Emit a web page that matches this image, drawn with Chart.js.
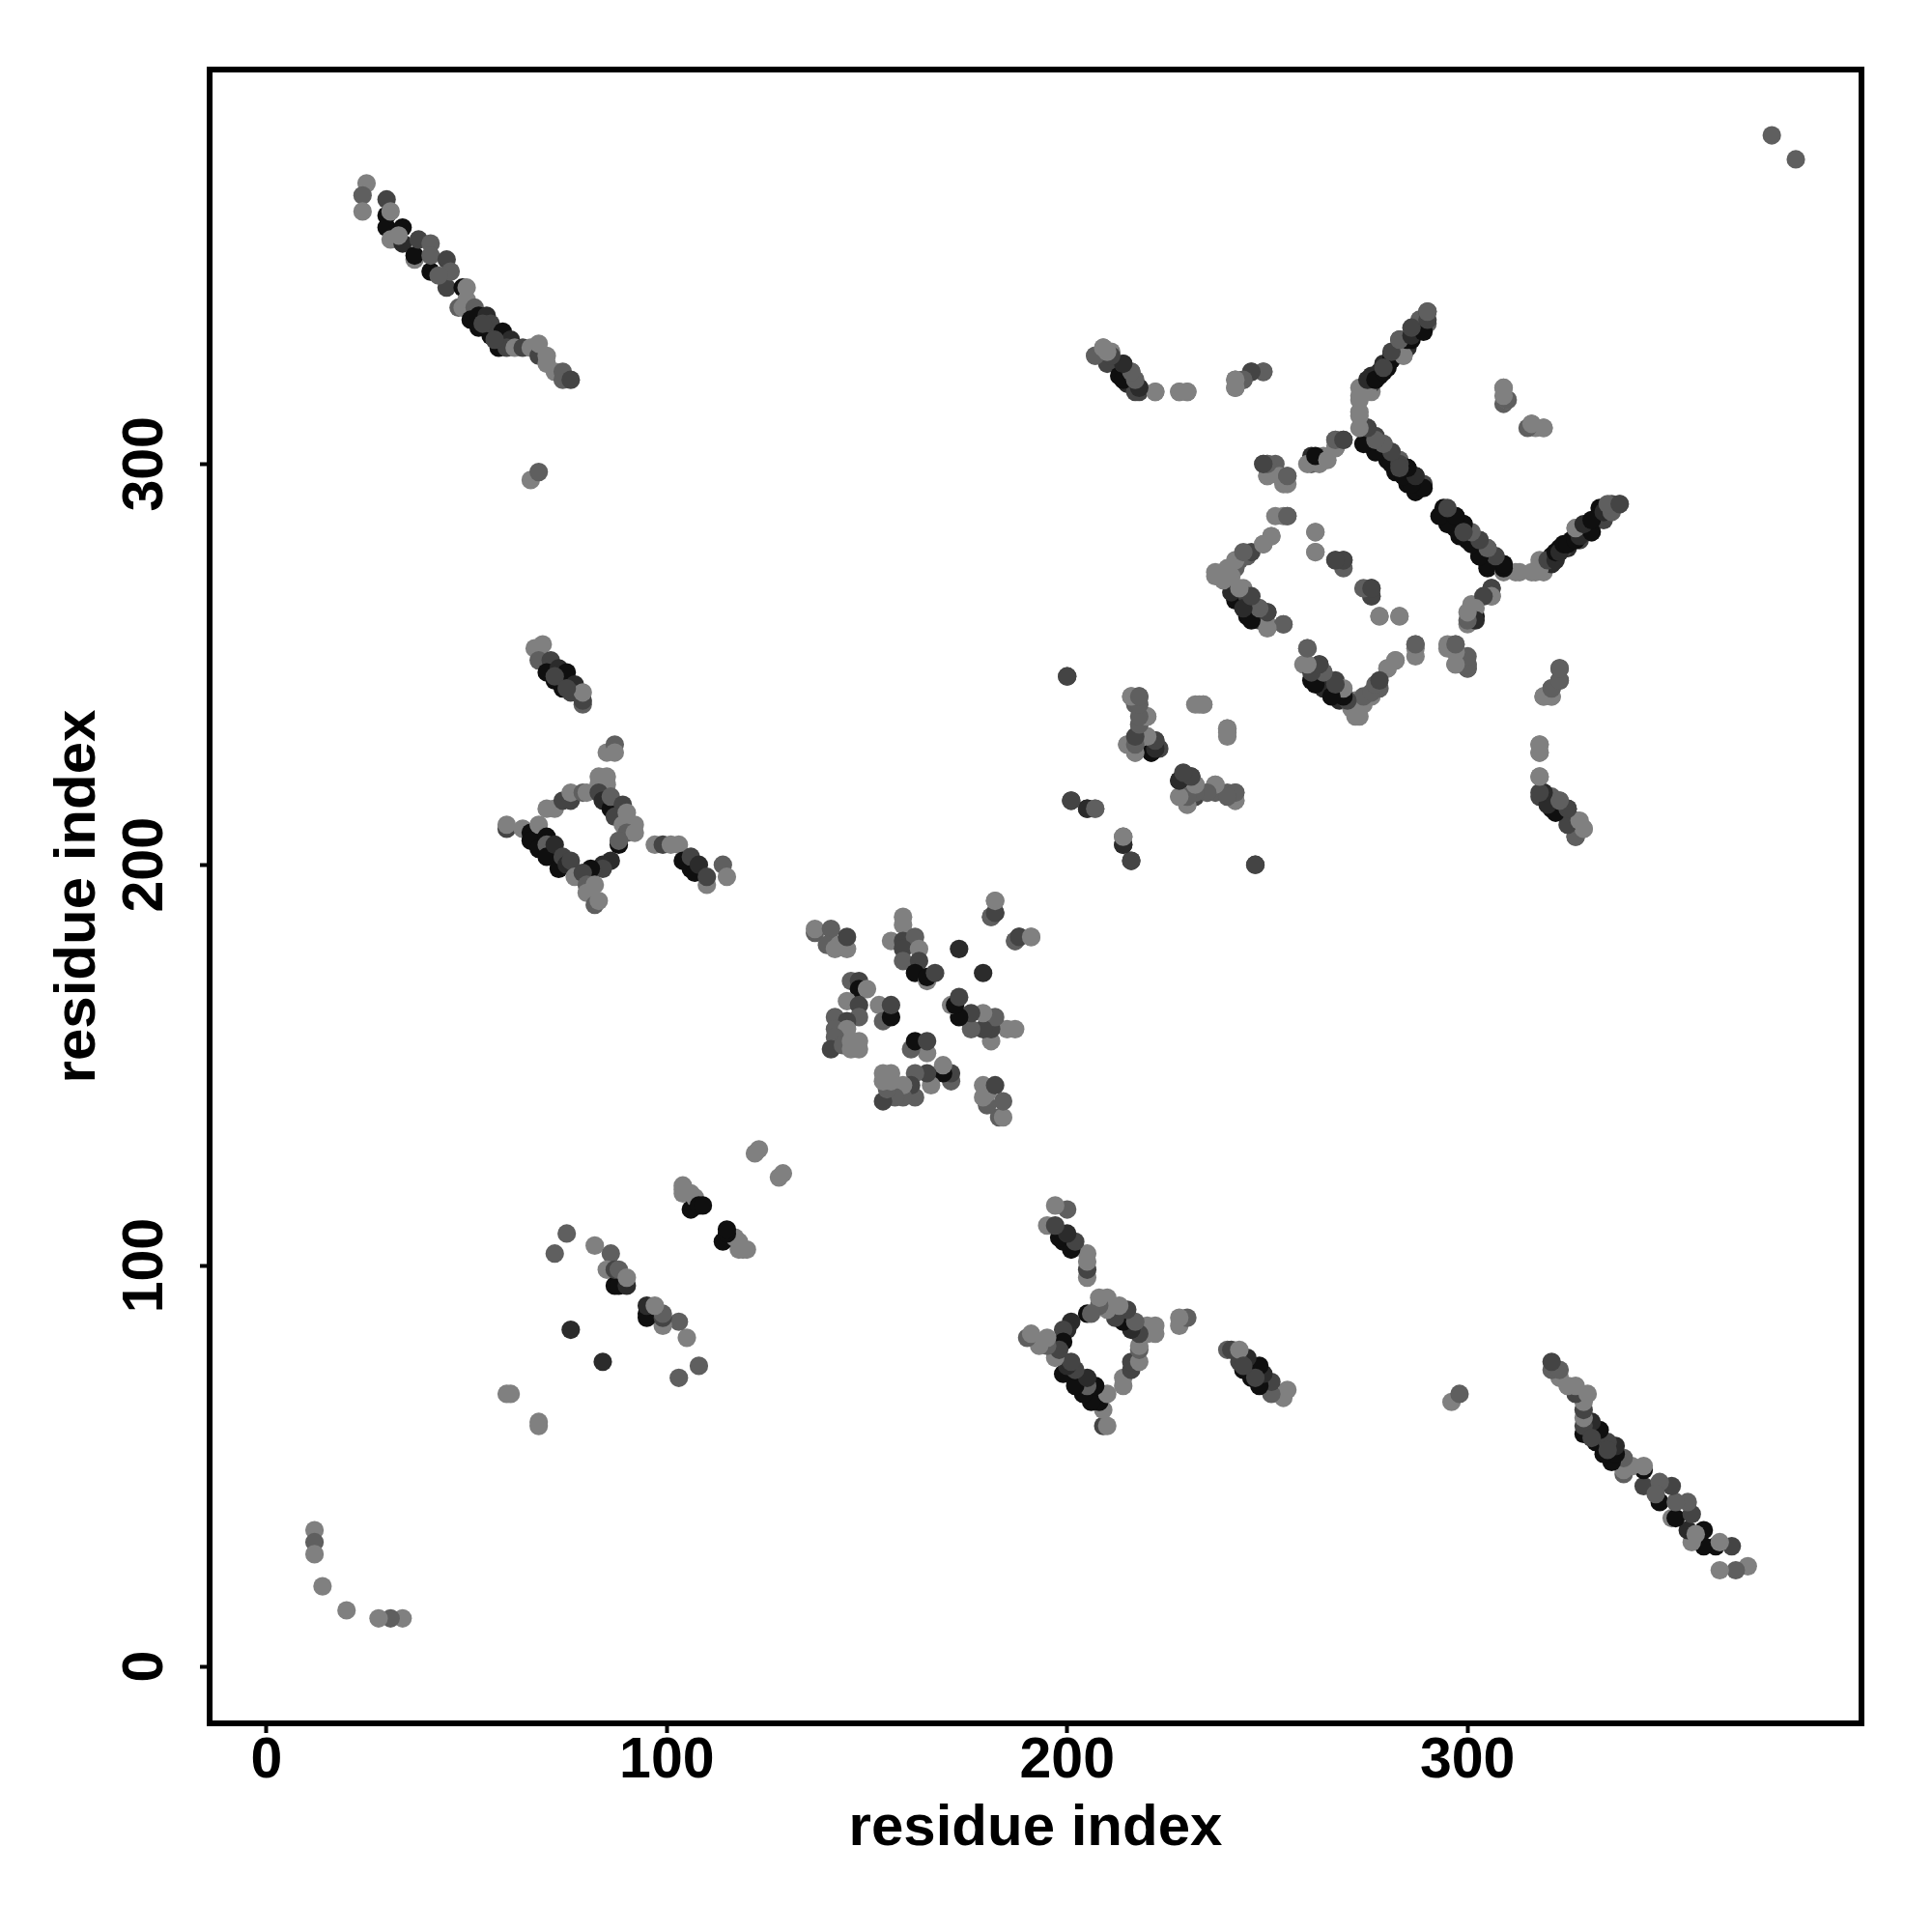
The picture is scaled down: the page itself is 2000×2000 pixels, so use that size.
<!DOCTYPE html>
<html>
<head>
<meta charset="utf-8">
<title>residue contacts</title>
<script src="https://cdn.jsdelivr.net/npm/chart.js@4"></script>
<style>
    body { margin: 0; background: #fff; }
    canvas { display: block; }
</style>
</head>
<body>
<canvas id="contact-chart" width="2000" height="2000"></canvas>
<script>
// upper triangle of the contact map, the lower one is its mirror
const residueI = [
    25,24,24,30,30,30,31,31,34,34,
    37,37,38,41,41,41,45,45,46,
    49,50,48,49,50,52,
    51,53,53,55,56,56,58,59,61,60,62,64,
    66,68,68,70,70,72,74,74,76,
    66,68,
    67,69,68,71,70,73,72,75,74,77,76,79,79,79,
    85,87,87,83,85,83,85,
    70,72,74,76,76,79,80,
    83,84,86,86,89,87,89,90,92,90,92,
    88,88,86,84,84,81,
    60,60,64,66,66,68,68,70,70,70,72,73,74,75,76,
    77,79,80,80,82,82,83,
    97,99,101,103,104,106,106,107,108,110,110,114,115,
    137,137,141,140,142,143,145,145,
    159,159,156,159,162,159,159,163,163,162,165,165,167,
    173,181,182,182,187,188,191,
    146,148,148,150,145,148,148,153,154,156,156,142,145,142,145,142,141,144,146,146,148,148,
    207,209,210,211,213,214,215,216,218,218,222,228,230,242,242,244,246,249,
    273,273,274,276,276,276,278,278,280,280,281,282,283,284,285,286,288,288,290,290,
    274,275,275,277,277,279,280,281,282,283,284,285,285,287,287,289,
    269,267,267,264,261,261,263,249,250,252,250,253,254,255,254,255,249,251,262,262,267,269,269,276,276,278,283,
    237,238,240,242,243,245,246,241,242,244,242,245,245,248,248,250,250,254,
    260,259,263,261,264,264,267,268,269,271,272,273,274,276,278,280,282,287,287,
    295,297,297,300,300,300,302,301,304,306,306,
    294,295,297,297,299,300,300,303,303,305,305,306,309,309,312,317,319,318,
    321,321,323,325,326,327,328,331,331,332,333,334,336,338,
    309,309,310,316,317,319,
    323,323,321,319,321,318,318,318,318,319,321,321,323,325,327,327,328,329,
    200,201,205,207,214,214,216,247,
    216,218,217,220,218,215,218,217,217,220,221,222,223,233,234,240,240,
    228,229,231,232,228,230,230,232,235,237,237,240,242,242,
    122,123,
    104,104,104,106,106,107,108,109,
    75,72,82,86,85,87,88,87,88,90,90,
    76,61,60,
    12,12,12,14,376,
    33,43,54,57,283,299,324,72,75
];
const residueJ = [
    370,367,363,366,362,359,356,363,355,359,
    351,352,356,348,355,352,351,344,348,
    344,344,339,339,341,339,
    336,334,337,337,332,335,329,333,331,329,329,329,
    329,327,330,327,325,323,321,323,321,
    296,298,
    254,255,251,251,248,249,246,248,244,245,243,240,241,243,
    228,230,228,222,222,220,220,
    214,214,216,216,218,218,218,
    218,216,214,217,215,212,210,213,210,208,208,
    205,206,201,200,199,199,
    209,210,209,208,206,204,210,207,205,202,205,199,202,200,201,
    197,198,195,193,195,190,191,
    205,205,205,205,201,199,202,198,200,195,197,200,197,
    183,184,184,180,179,180,179,182,
    187,185,181,181,182,179,176,179,176,173,171,172,173,
    179,187,188,191,181,182,182,
    171,171,169,169,166,165,162,165,161,162,165,162,161,159,159,157,154,155,154,156,154,156,
    327,329,325,328,322,325,320,323,319,318,318,318,318,319,321,321,323,323,
    313,316,318,318,320,322,322,323,324,325,327,328,331,327,329,331,334,336,335,338,
    309,309,305,307,303,305,301,303,298,301,297,299,295,293,297,295,
    306,306,304,302,302,300,300,300,300,300,297,297,295,297,287,287,280,282,283,278,276,274,276,269,267,262,262,
    272,272,273,274,276,277,278,270,269,269,266,267,262,264,261,263,260,260,
    254,250,250,246,248,244,246,241,243,239,241,237,240,242,244,249,251,252,255,
    255,255,250,250,249,260,262,265,267,267,269,
    289,286,284,287,285,281,283,277,281,274,279,277,275,273,273,273,273,275,
    275,277,279,279,281,284,281,285,283,286,289,286,290,290,
    319,315,316,310,309,309,
    249,246,244,242,242,230,228,222,217,218,214,217,216,214,207,211,210,209,
    247,216,214,214,205,207,201,200,
    242,242,240,237,235,230,232,230,228,232,228,231,229,240,240,234,232,
    221,222,222,220,217,215,217,217,218,220,218,218,216,218,
    128,129,
    118,120,119,118,114,117,115,115,
    108,103,105,103,99,95,95,99,99,95,97,
    84,68,68,
    34,31,28,20,382,
    357,347,335,331,299,283,279,247,244
];
// 1 = weakest contact (light grey), 5 = strongest (near black)
const contactLevel = [
    1,2,1,3,5,5,1,1,4,5,
    1,5,3,5,2,2,3,3,2,
    5,1,2,1,1,2,
    5,5,5,4,5,3,5,5,4,3,1,3,
    1,3,1,1,1,1,2,2,3,
    1,2,
    1,1,2,3,5,4,5,5,5,4,3,2,3,1,
    1,2,1,1,1,1,1,
    1,1,3,3,1,2,1,
    3,4,5,2,3,3,1,1,1,2,1,
    5,2,4,4,3,5,
    3,1,1,5,5,5,1,5,2,5,4,5,3,4,3,
    1,3,2,1,1,2,1,
    1,3,1,1,5,5,3,5,4,1,3,2,1,
    2,1,2,2,1,1,1,3,
    1,1,1,3,2,3,2,1,3,5,1,5,3,
    4,2,3,1,2,3,1,
    2,3,5,1,1,3,2,1,2,5,3,2,3,2,1,2,3,2,1,1,1,1,
    2,1,3,1,5,3,4,2,4,3,1,1,1,1,1,2,2,2,
    1,1,1,1,3,4,5,4,5,5,5,4,5,1,4,5,4,2,2,3,
    5,5,5,3,5,2,5,3,5,2,5,5,5,5,5,3,
    3,1,3,1,4,2,1,2,2,2,1,1,1,2,1,2,1,1,1,1,3,2,3,3,3,1,1,
    1,1,1,2,2,2,3,3,5,1,5,3,5,2,3,3,1,2,
    2,1,3,5,2,4,3,4,1,1,1,1,1,1,2,1,1,1,2,
    1,2,1,2,3,1,5,1,1,2,3,
    5,5,5,4,5,5,3,5,3,5,2,2,3,1,1,1,1,1,
    4,5,5,4,5,1,3,5,2,4,5,3,3,2,
    1,2,1,2,1,1,
    2,3,2,1,1,1,1,1,3,4,5,2,2,4,2,3,1,1,
    3,3,4,1,4,2,3,3,
    1,2,2,1,2,1,2,2,1,1,4,3,3,1,1,1,1,
    5,4,3,1,1,1,2,3,2,1,2,2,1,2,
    1,1,
    1,1,1,1,5,1,5,5,
    2,2,1,2,1,5,5,3,2,4,1,
    4,1,1,
    1,2,1,1,2,
    1,2,3,3,3,3,3,3,3
];
const levelGreys = ['#808080', '#5f5f5f', '#444444', '#2b2b2b', '#0f0f0f'];
const tickValues = [0, 100, 200, 300];
const axisLabel = 'residue index';

const upper = residueI.map((r, k) => ({x: r, y: residueJ[k]}));
const lower = residueI.map((r, k) => ({x: residueJ[k], y: r}));
const greys = contactLevel.map(l => levelGreys[l - 1]);

const titleFont = {family: '"Liberation Sans", sans-serif', size: 60, weight: 'bold'};
const tickFont = {family: '"Liberation Sans", sans-serif', size: 59, weight: 'bold'};

// R style box round the plot, chart.js only draws the left and bottom edges
const boxPlugin = {
    id: 'box',
    afterDatasetsDraw(chart) {
        const {left, top, width, height} = chart.chartArea;
        const ctx = chart.ctx;
        ctx.save();
        ctx.strokeStyle = '#000';
        ctx.lineWidth = 6;
        ctx.strokeRect(left, top, width, height);
        ctx.restore();
    }
};

function sharedAxis(fit) {
    return {
        type: 'linear',
        min: -14.2,
        max: 398.4,
        afterBuildTicks(scale) {
            scale.ticks = tickValues.map(v => ({value: v}));
        },
        afterFit: fit,
        border: {display: false},
        grid: {
            drawOnChartArea: false,
            drawTicks: true,
            tickLength: 10,
            tickWidth: 4,
            tickColor: '#000'
        }
    };
}

const xAxis = sharedAxis(scale => { scale.height = 216; });
xAxis.ticks = {color: '#000', font: tickFont, padding: -6, maxRotation: 0, autoSkip: false};
xAxis.title = {display: true, text: axisLabel, color: '#000', font: titleFont, padding: {top: 0, bottom: 71}};

const yAxis = sharedAxis(scale => { scale.width = 217; });
yAxis.ticks = {color: '#000', font: tickFont, padding: 6, minRotation: 90, maxRotation: 90, autoSkip: false, crossAlign: 'center'};
yAxis.title = {display: true, text: axisLabel, color: '#000', font: titleFont, padding: {top: 45, bottom: 0}};

new Chart(document.getElementById('contact-chart'), {
    type: 'scatter',
    data: {
        datasets: [{
            label: 'contacts',
            data: upper.concat(lower),
            backgroundColor: greys.concat(greys),
            borderWidth: 0,
            pointRadius: 9.6,
            pointHoverRadius: 9.6
        }]
    },
    options: {
        responsive: false,
        animation: false,
        layout: {padding: {top: 72, right: 73, left: 0, bottom: 0}},
        plugins: {
            legend: {display: false},
            tooltip: {enabled: false}
        },
        scales: {x: xAxis, y: yAxis}
    },
    plugins: [boxPlugin]
});
</script>
</body>
</html>
